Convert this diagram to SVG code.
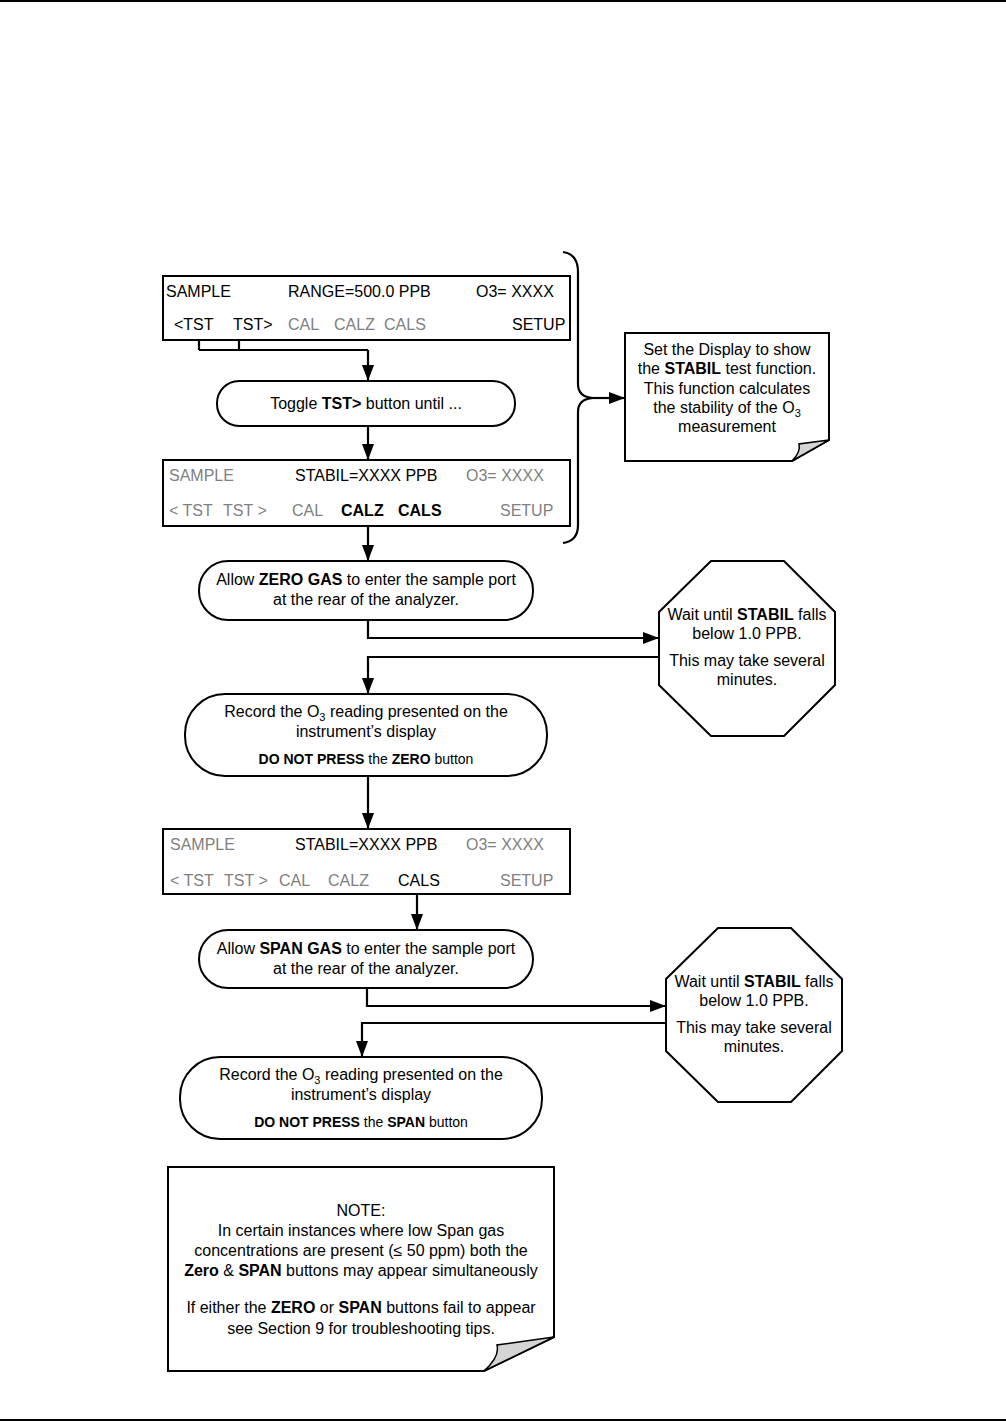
<svg xmlns="http://www.w3.org/2000/svg" width="1006" height="1421" viewBox="0 0 1006 1421">
<defs>
<marker id="ah" markerWidth="16" markerHeight="12" refX="16" refY="6" orient="auto" markerUnits="userSpaceOnUse" viewBox="0 0 16 12">
<path d="M0,0 L16,6 L0,12 Z" fill="#000"/>
</marker>
<style>
text{font-family:"Liberation Sans",Arial,sans-serif;font-size:16px;fill:#000}
.g{fill:#808080}
.b{font-weight:bold}
.c{text-anchor:middle}
.s{font-size:14px}
.sub{font-size:11px}
.box{fill:#fff;stroke:#000;stroke-width:2}
.ln{fill:none;stroke:#000;stroke-width:2.2}
.ar{fill:none;stroke:#000;stroke-width:2.2;marker-end:url(#ah)}
.fold{fill:#d4d4d4;stroke:#000;stroke-width:1.5}
</style>
</defs>
<rect width="1006" height="1421" fill="#fff"/>
<line x1="0" y1="1" x2="1006" y2="1" stroke="#000" stroke-width="2"/>
<line x1="0" y1="1420" x2="1006" y2="1420" stroke="#000" stroke-width="2"/>

<g id="connectors">
<path class="ln" d="M199,340 V350 M239,340 V350 M199,350 H368"/>
<path class="ar" d="M368,350 V381"/>
<path class="ar" d="M368,426 V460"/>
<path class="ar" d="M368,526 V561"/>
<path class="ln" d="M563,252 Q578,254 578,272 V384 Q578,397 593,398 Q578,399 578,412 V525 Q578,541 563,543"/>
<path class="ar" d="M593,398 H625"/>
<path class="ar" d="M368,620 V638 H659"/>
<path class="ar" d="M659,657 H368 V694"/>
<path class="ar" d="M368,776 V829"/>
<path class="ar" d="M417,894 V930"/>
<path class="ar" d="M367,988 V1006 H666"/>
<path class="ar" d="M666,1023 H362 V1057"/>
</g>

<g id="display1">
<rect class="box" x="163" y="276" width="407" height="64"/>
<text x="166" y="297">SAMPLE</text>
<text x="288" y="297">RANGE=500.0 PPB</text>
<text x="476" y="297">O3= XXXX</text>
<text x="174" y="330">&lt;TST</text>
<text x="233" y="330">TST&gt;</text>
<text x="288" y="330" class="g">CAL</text>
<text x="334" y="330" class="g">CALZ</text>
<text x="384" y="330" class="g">CALS</text>
<text x="512" y="330">SETUP</text>
</g>

<g id="toggle">
<rect class="box" x="217" y="381" width="298" height="45" rx="22" ry="22"/>
<text x="366" y="409" class="c">Toggle <tspan class="b">TST&gt;</tspan> button until ...</text>
</g>

<g id="note1">
<path class="box" d="M625,333 H829 V440 L792,461 H625 Z"/>
<path class="fold" d="M792,461 Q801,452 799,444 L829,440 Z"/>
<text x="727" y="355" class="c">Set the Display to show</text>
<text x="727" y="374" class="c">the <tspan class="b">STABIL</tspan> test function.</text>
<text x="727" y="394" class="c">This function calculates</text>
<text x="727" y="413" class="c">the stability of the O<tspan class="sub" dy="4">3</tspan></text>
<text x="727" y="432" class="c">measurement</text>
</g>

<g id="display2">
<rect class="box" x="163" y="460" width="407" height="66"/>
<text x="169" y="481" class="g">SAMPLE</text>
<text x="295" y="481">STABIL=XXXX PPB</text>
<text x="466" y="481" class="g">O3= XXXX</text>
<text x="169" y="516" class="g">&lt; TST</text>
<text x="223" y="516" class="g">TST &gt;</text>
<text x="292" y="516" class="g">CAL</text>
<text x="341" y="516" class="b">CALZ</text>
<text x="398" y="516" class="b">CALS</text>
<text x="500" y="516" class="g">SETUP</text>
</g>

<g id="allowzero">
<rect class="box" x="199" y="561" width="334" height="59" rx="29" ry="29"/>
<text x="366" y="585" class="c">Allow <tspan class="b">ZERO GAS</tspan> to enter the sample port</text>
<text x="366" y="605" class="c">at the rear of the analyzer.</text>
</g>

<g id="wait1">
<polygon class="box" points="711,561 784,561 835,612 835,685 784,736 711,736 659,685 659,612"/>
<text x="747" y="620" class="c">Wait until <tspan class="b">STABIL</tspan> falls</text>
<text x="747" y="639" class="c">below 1.0 PPB.</text>
<text x="747" y="666" class="c">This may take several</text>
<text x="747" y="685" class="c">minutes.</text>
</g>

<g id="record1">
<rect class="box" x="185" y="694" width="362" height="82" rx="40" ry="40"/>
<text x="366" y="717" class="c">Record the O<tspan class="sub" dy="4">3</tspan><tspan dy="-4"> reading presented on the</tspan></text>
<text x="366" y="737" class="c">instrument’s display</text>
<text x="366" y="764" class="c s"><tspan class="b">DO NOT PRESS</tspan> the <tspan class="b">ZERO</tspan> button</text>
</g>

<g id="display3">
<rect class="box" x="163" y="829" width="407" height="65"/>
<text x="170" y="850" class="g">SAMPLE</text>
<text x="295" y="850">STABIL=XXXX PPB</text>
<text x="466" y="850" class="g">O3= XXXX</text>
<text x="170" y="886" class="g">&lt; TST</text>
<text x="224" y="886" class="g">TST &gt;</text>
<text x="279" y="886" class="g">CAL</text>
<text x="328" y="886" class="g">CALZ</text>
<text x="398" y="886">CALS</text>
<text x="500" y="886" class="g">SETUP</text>
</g>

<g id="allowspan">
<rect class="box" x="199" y="930" width="334" height="58" rx="29" ry="29"/>
<text x="366" y="954" class="c">Allow <tspan class="b">SPAN GAS</tspan> to enter the sample port</text>
<text x="366" y="974" class="c">at the rear of the analyzer.</text>
</g>

<g id="wait2">
<polygon class="box" points="718,928 791,928 842,979 842,1051 791,1102 718,1102 666,1051 666,979"/>
<text x="754" y="987" class="c">Wait until <tspan class="b">STABIL</tspan> falls</text>
<text x="754" y="1006" class="c">below 1.0 PPB.</text>
<text x="754" y="1033" class="c">This may take several</text>
<text x="754" y="1052" class="c">minutes.</text>
</g>

<g id="record2">
<rect class="box" x="180" y="1057" width="362" height="82" rx="40" ry="40"/>
<text x="361" y="1080" class="c">Record the O<tspan class="sub" dy="4">3</tspan><tspan dy="-4"> reading presented on the</tspan></text>
<text x="361" y="1100" class="c">instrument’s display</text>
<text x="361" y="1127" class="c s"><tspan class="b">DO NOT PRESS</tspan> the <tspan class="b">SPAN</tspan> button</text>
</g>

<g id="note2">
<path class="box" d="M168,1167 H554 V1337 L484,1371 H168 Z"/>
<path class="fold" d="M484,1371 Q500,1357 497,1345 L554,1337 Z"/>
<text x="361" y="1216" class="c">NOTE:</text>
<text x="361" y="1236" class="c">In certain instances where low Span gas</text>
<text x="361" y="1256" class="c">concentrations are present (≤ 50 ppm) both the</text>
<text x="361" y="1276" class="c"><tspan class="b">Zero</tspan> &amp; <tspan class="b">SPAN</tspan> buttons may appear simultaneously</text>
<text x="361" y="1313" class="c">If either the <tspan class="b">ZERO</tspan> or <tspan class="b">SPAN</tspan> buttons fail to appear</text>
<text x="361" y="1334" class="c">see Section 9 for troubleshooting tips.</text>
</g>
</svg>
